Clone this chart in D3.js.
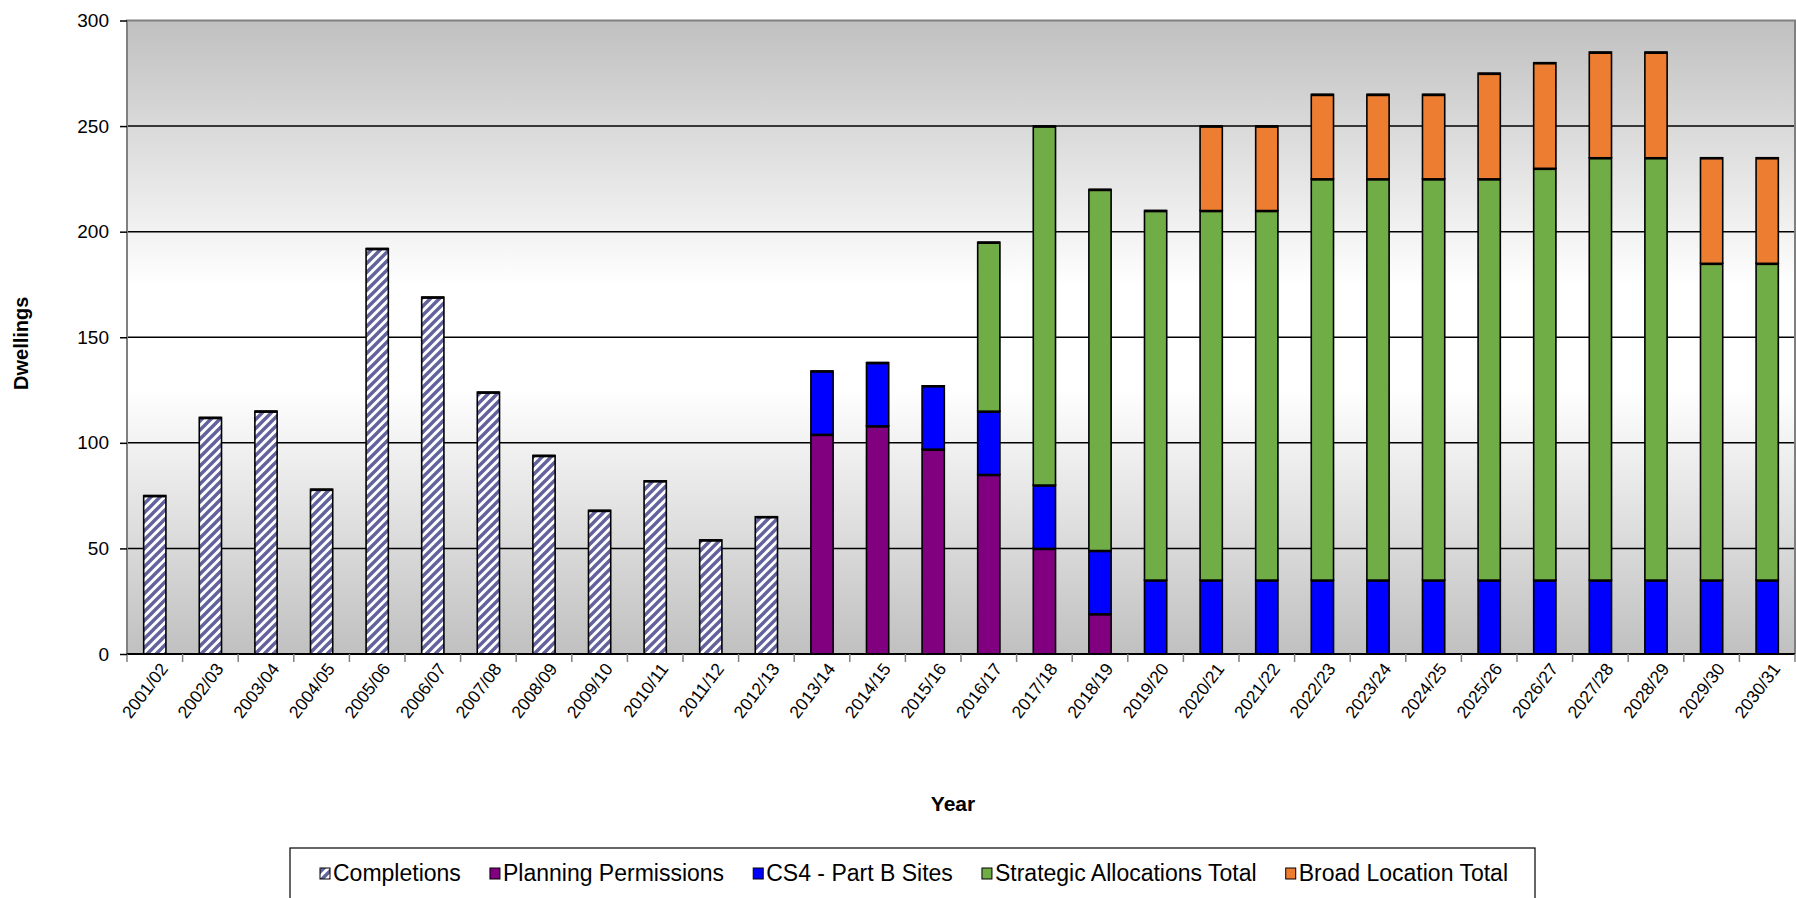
<!DOCTYPE html>
<html>
<head>
<meta charset="utf-8">
<script src="https://cdn.jsdelivr.net/npm/d3@7"></script>
<style>
  html, body { margin: 0; padding: 0; background: #ffffff; }
  svg { display: block; font-family: "Liberation Sans", Arial, sans-serif; }
</style>
</head>
<body>
<svg id="chart" width="1796" height="898"></svg>
<script>
// Housing supply by monitoring year
const years = ["2001/02","2002/03","2003/04","2004/05","2005/06","2006/07","2007/08","2008/09",
  "2009/10","2010/11","2011/12","2012/13","2013/14","2014/15","2015/16","2016/17","2017/18",
  "2018/19","2019/20","2020/21","2021/22","2022/23","2023/24","2024/25","2025/26","2026/27",
  "2027/28","2028/29","2029/30","2030/31"];

const completions = [75,112,115,78,192,169,124,94,68,82,54,65, 0,0,0,0,0,0, 0,0,0,0,0,0,0,0,0,0,0,0];
const planningPermissions = [0,0,0,0,0,0,0,0,0,0,0,0, 104,108,97,85,50,19, 0,0,0,0,0,0,0,0,0,0,0,0];
const cs4PartB = [0,0,0,0,0,0,0,0,0,0,0,0, 30,30,30,30,30,30, 35,35,35,35,35,35,35,35,35,35,35,35];
const strategicAllocations = [0,0,0,0,0,0,0,0,0,0,0,0, 0,0,0,80,170,171, 175,175,175,190,190,190,190,195,200,200,150,150];
const broadLocation = [0,0,0,0,0,0,0,0,0,0,0,0, 0,0,0,0,0,0, 0,40,40,40,40,40,50,50,50,50,50,50];

const seriesNames = ["Completions","Planning Permissions","CS4 - Part B Sites","Strategic Allocations Total","Broad Location Total"];
const seriesKeys = ["completions","planning","cs4","strategic","broad"];
const seriesColors = ["url(#hatch)","#800080","#0000ff","#70ad47","#ed7d31"];
const yTicks = [0,50,100,150,200,250,300];

const rows = years.map((y, i) => ({
  year: y,
  completions: completions[i],
  planning: planningPermissions[i],
  cs4: cs4PartB[i],
  strategic: strategicAllocations[i],
  broad: broadLocation[i]
}));

const svg = d3.select("#chart");
const plot = { left: 127, right: 1795, top: 20.5, bottom: 654 };

const x = d3.scaleBand().domain(years).range([plot.left, plot.right]).paddingInner(0.6).paddingOuter(0.3);
const y = d3.scaleLinear().domain([0, 300]).range([plot.bottom, plot.top]);

const defs = svg.append("defs");
const grad = defs.append("linearGradient").attr("id", "bg").attr("x1", 0).attr("y1", 0).attr("x2", 0).attr("y2", 1);
grad.append("stop").attr("offset", "0%").attr("stop-color", "#c0c0c0");
grad.append("stop").attr("offset", "42%").attr("stop-color", "#ffffff");
grad.append("stop").attr("offset", "58%").attr("stop-color", "#ffffff");
grad.append("stop").attr("offset", "100%").attr("stop-color", "#c0c0c0");

// diagonal hatch for completions
const hatch = defs.append("pattern").attr("id", "hatch").attr("patternUnits", "userSpaceOnUse")
  .attr("width", 9).attr("height", 9);
hatch.append("rect").attr("width", 9).attr("height", 9).attr("fill", "#ffffff");
hatch.append("path").attr("d", "M-2,11 L11,-2 M-2,2 L2,-2 M7,11 L11,7")
  .attr("stroke", "#62629c").attr("stroke-width", 3.4);

// plot area
svg.append("rect").attr("x", plot.left).attr("y", plot.top)
  .attr("width", plot.right - plot.left).attr("height", plot.bottom - plot.top)
  .attr("fill", "url(#bg)");

// gridlines
svg.append("g").selectAll("line").data(yTicks.filter(t => t > 0 && t < 300)).join("line")
  .attr("x1", plot.left).attr("x2", plot.right)
  .attr("y1", d => y(d)).attr("y2", d => y(d))
  .attr("stroke", "#000").attr("stroke-width", 1.5);

// frame
svg.append("path")
  .attr("d", `M${plot.left},${plot.bottom} V${plot.top} H${plot.right} V${plot.bottom}`)
  .attr("fill", "none").attr("stroke", "#808080").attr("stroke-width", 2);

// stacked bars
const stacked = d3.stack().keys(seriesKeys)(rows);

const layers = svg.append("g").selectAll("g").data(stacked).join("g")
  .attr("fill", (d, i) => seriesColors[i]);

layers.selectAll("rect").data(d => d.filter(s => s[1] - s[0] > 0)).join("rect")
  .attr("x", d => x(d.data.year))
  .attr("width", x.bandwidth())
  .attr("y", d => y(d[1]))
  .attr("height", d => y(d[0]) - y(d[1]))
  .attr("stroke", "#000").attr("stroke-width", 1.6);

layers.selectAll("line").data(d => d.filter(s => s[1] - s[0] > 0)).join("line")
  .attr("x1", d => x(d.data.year)).attr("x2", d => x(d.data.year) + x.bandwidth())
  .attr("y1", d => y(d[1]) + 0.5).attr("y2", d => y(d[1]) + 0.5)
  .attr("stroke", "#000").attr("stroke-width", 2.6);

// x axis
const xAxis = svg.append("g").attr("transform", `translate(0,${plot.bottom})`);
xAxis.append("line").attr("x1", plot.left).attr("x2", plot.right).attr("stroke", "#000").attr("stroke-width", 2);
const tickXs = years.map(d => x(d) - (x.step() - x.bandwidth()) / 2);
tickXs[0] = plot.left;
tickXs.push(plot.right);
xAxis.selectAll("line.tk").data(tickXs).join("line").attr("class", "tk")
  .attr("x1", d => d).attr("x2", d => d).attr("y1", 0).attr("y2", 8)
  .attr("stroke", "#808080").attr("stroke-width", 1.5);
xAxis.selectAll("text").data(years).join("text")
  .attr("transform", d => `translate(${x(d) + x.bandwidth() / 2 + 14},${15}) rotate(-53)`)
  .attr("text-anchor", "end")
  .attr("font-size", 17.5)
  .attr("fill", "#000")
  .text(d => d);

// y axis
const yAxis = svg.append("g").attr("transform", `translate(${plot.left},0)`)
  .call(d3.axisLeft(y).tickValues(yTicks).tickSize(7).tickPadding(11));
yAxis.select(".domain").remove();
yAxis.selectAll(".tick line").attr("stroke", "#000").attr("stroke-width", 1.5);
yAxis.selectAll(".tick text").attr("font-size", 19).attr("fill", "#000")
  .attr("font-family", "'Liberation Sans', Arial, sans-serif");

// axis titles
svg.append("text").attr("transform", `translate(28,${(plot.top + plot.bottom) / 2 + 6}) rotate(-90)`)
  .attr("text-anchor", "middle").attr("font-weight", "bold").attr("font-size", 20).text("Dwellings");
svg.append("text").attr("x", 953).attr("y", 811)
  .attr("text-anchor", "middle").attr("font-weight", "bold").attr("font-size", 21).text("Year");

// legend
const legend = svg.append("g");
legend.append("rect").attr("x", 290).attr("y", 848).attr("width", 1245).attr("height", 60)
  .attr("fill", "#fff").attr("stroke", "#000").attr("stroke-width", 1.2);
const items = legend.selectAll("g.item").data(seriesNames).join("g").attr("class", "item");
items.append("rect").attr("width", 10).attr("height", 11).attr("y", -13)
  .attr("fill", (d, i) => seriesColors[i]).attr("stroke", "#000").attr("stroke-width", 1);
items.append("text").attr("x", 13).attr("font-size", 23).attr("fill", "#000").text(d => d);
const widths = [];
items.each(function () { widths.push(13 + d3.select(this).select("text").node().getComputedTextLength()); });
const span = { start: 320, end: 1508 };
const gap = (span.end - span.start - d3.sum(widths)) / (widths.length - 1);
let cx = span.start;
items.attr("transform", (d, i) => { const t = `translate(${cx},881)`; cx += widths[i] + gap; return t; });
</script>
</body>
</html>
